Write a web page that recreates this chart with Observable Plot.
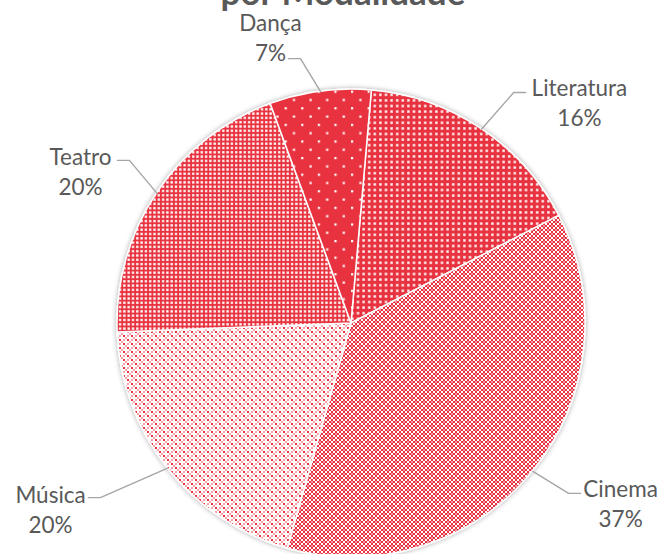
<!DOCTYPE html>
<html><head><meta charset="utf-8">
<script src="https://cdn.jsdelivr.net/npm/d3@7"></script>
<script src="https://cdn.jsdelivr.net/npm/@observablehq/plot@0.6"></script>
<style>
html,body{margin:0;padding:0;background:#fff;overflow:hidden;}
#wrap{position:relative;width:661px;height:554px;overflow:hidden;}
#title{position:absolute;left:0;width:686px;text-align:center;top:-26px;font-family:Lato;font-weight:bold;font-size:35px;color:#595959;line-height:1;white-space:nowrap;}
#chart{position:absolute;left:0;top:0;}
</style></head><body>
<svg width="0" height="0" style="position:absolute">
<defs>
  <pattern id="pDan" patternUnits="userSpaceOnUse" width="16.6" height="16.6">
    <rect width="16.6" height="16.6" fill="#E8333F"/>
    <rect x="0" y="0" width="2.2" height="2.2" fill="#fff"/>
    <rect x="8.3" y="8.3" width="2.2" height="2.2" fill="#fff"/>
  </pattern>
  <pattern id="pLit" patternUnits="userSpaceOnUse" width="5.6" height="5.6">
    <rect width="5.6" height="5.6" fill="#E8333F"/>
    <rect x="0" y="0" width="2.8" height="2.8" fill="#F08A92"/>
    <rect x="0.4" y="0.4" width="2" height="2" fill="#fff"/>
  </pattern>
  <pattern id="pTea" patternUnits="userSpaceOnUse" width="4.3" height="4.3">
    <rect width="4.3" height="4.3" fill="#E8333F"/>
    <rect x="0" y="0" width="2.6" height="2.6" fill="#F39AA0"/>
    <rect x="0.3" y="0.3" width="2" height="2" fill="#fff"/>
  </pattern>
  <pattern id="pCin" patternUnits="userSpaceOnUse" width="8" height="8">
    <rect width="8" height="8" fill="#fff"/>
    <rect x="0" y="0" width="2" height="2" fill="#E8333F"/>
    <rect x="4" y="0" width="2" height="2" fill="#E8333F"/>
    <rect x="2" y="2" width="2" height="2" fill="#E8333F"/>
    <rect x="4" y="2" width="2" height="2" fill="#F39AA0"/>
    <rect x="6" y="2" width="2" height="2" fill="#E8333F"/>
    <rect x="0" y="4" width="2" height="2" fill="#E8333F"/>
    <rect x="4" y="4" width="2" height="2" fill="#E8333F"/>
    <rect x="0" y="6" width="2" height="2" fill="#F39AA0"/>
    <rect x="2" y="6" width="2" height="2" fill="#E8333F"/>
    <rect x="6" y="6" width="2" height="2" fill="#E8333F"/>
  </pattern>
  <pattern id="pMus" patternUnits="userSpaceOnUse" width="8" height="8">
    <rect width="8" height="8" fill="#fff"/>
    <rect x="0" y="0" width="2" height="2" fill="#E8333F"/>
    <rect x="4" y="0" width="2" height="2" fill="#F5A3A8"/>
    <rect x="2" y="2" width="2" height="2" fill="#F5A3A8"/>
    <rect x="0" y="4" width="2" height="2" fill="#F5A3A8"/>
    <rect x="4" y="4" width="2" height="2" fill="#E8333F"/>
    <rect x="6" y="6" width="2" height="2" fill="#F5A3A8"/>
  </pattern>
  <filter id="shadow" x="-10%" y="-10%" width="120%" height="120%">
    <feDropShadow dx="0" dy="0" stdDeviation="2.5" flood-color="#000" flood-opacity="0.35"/>
  </filter>
</defs>
</svg>
<div id="wrap"><div id="title">por Modalidade</div><div id="chart"></div></div>
<script>
// ---- data ----
const categories = ["Literatura", "Cinema", "Música", "Teatro", "Dança"];
const shares = [16, 37, 20, 20, 7];           // percent
const patternIds = ["pLit", "pCin", "pMus", "pTea", "pDan"];

// ---- layout (pie units: radius = 1, center = 0,0) ----
const startDeg = 5;                            // rotation of first slice
const labelX = [0.974, 1.150, -1.286, -1.158, -0.346];
const labelY = [0.949, -0.765, -0.791, 0.654, 1.226];
const leaderEndX = [0.744, 0.979, -1.124, -1.0, -0.269];
const leaderEndY = [0.987, -0.726, -0.744, 0.697, 1.132];
const elbowLen = 0.051;

const W = 661, H = 554, cxPx = 351, cyPx = 323, rPx = 234;

const slices = categories.map((name, i) => ({name, share: shares[i], pattern: patternIds[i]}));
const startRad = startDeg * Math.PI / 180;
const arcs = d3.pie().sort(null).value(d => d.share).startAngle(startRad).endAngle(startRad + 2 * Math.PI)(slices);

const labels = slices.map((d, i) => ({text: `${d.name}\n${d.share}%`, x: labelX[i], y: labelY[i]}));

const leaders = [];
arcs.forEach((a, i) => {
  const mid = (a.startAngle + a.endAngle) / 2;
  const ex = Math.sin(mid), ey = Math.cos(mid);
  const toward = leaderEndX[i] > ex ? -elbowLen : elbowLen;
  leaders.push({name: a.data.name, x: ex, y: ey});
  leaders.push({name: a.data.name, x: leaderEndX[i] + toward, y: leaderEndY[i]});
  leaders.push({name: a.data.name, x: leaderEndX[i], y: leaderEndY[i]});
});

function pieMark(index, scales) {
  const s = scales && typeof scales.x === "function" ? scales : index;
  const cx = s.x(0), cy = s.y(0), r = s.x(1) - s.x(0);
  const arc = d3.arc().innerRadius(0).outerRadius(r);
  const g = d3.create("svg:g").attr("transform", `translate(${cx},${cy})`).attr("filter", "url(#shadow)");
  g.selectAll("path").data(arcs).join("path")
    .attr("d", arc)
    .attr("fill", d => `url(#${d.data.pattern})`)
    .attr("stroke", "#fff").attr("stroke-width", 1.5).attr("stroke-linejoin", "round");
  return g.node();
}

const chart = Plot.plot({
  width: W, height: H,
  marginTop: 0, marginRight: 0, marginBottom: 0, marginLeft: 0,
  x: {domain: [-cxPx / rPx, (W - cxPx) / rPx], axis: null},
  y: {domain: [-(H - cyPx) / rPx, cyPx / rPx], axis: null},
  style: {background: "transparent", overflow: "visible"},
  marks: [
    pieMark,
    Plot.line(leaders, {x: "x", y: "y", z: "name", stroke: "#A6A6A6", strokeWidth: 1.4}),
    Plot.text(labels, {x: "x", y: "y", text: "text", fontFamily: "Lato", fontSize: 22.5, lineHeight: 1.34, fill: "#595959", textAnchor: "middle"})
  ]
});
document.getElementById("chart").appendChild(chart);
</script>
</body></html>
